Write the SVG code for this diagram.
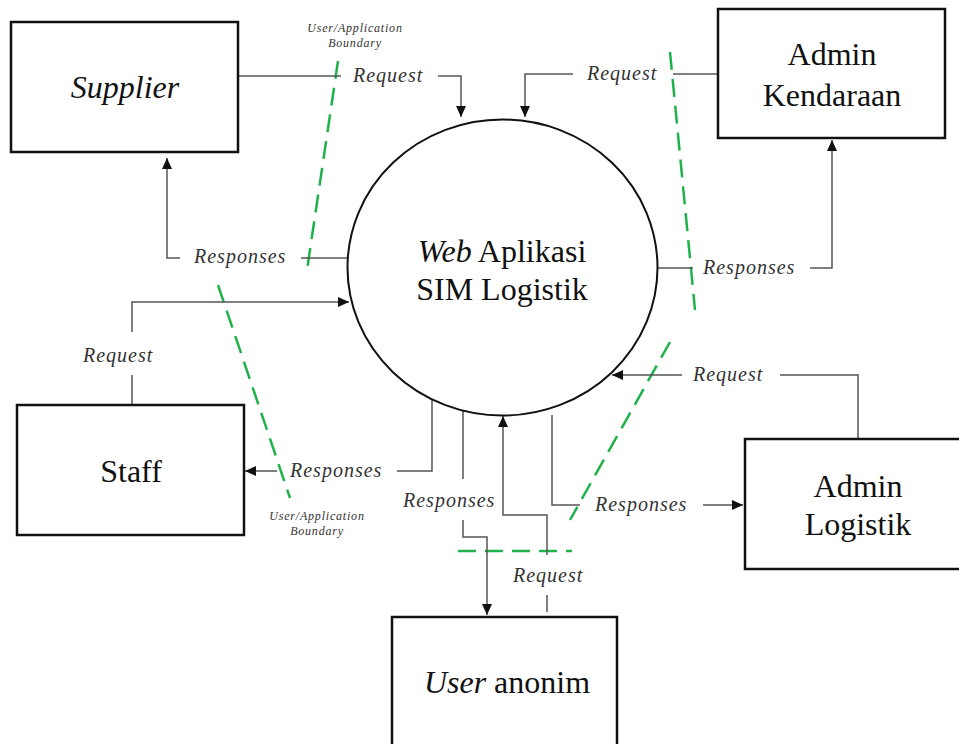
<svg xmlns="http://www.w3.org/2000/svg" width="959" height="744" viewBox="0 0 959 744">
<style>
.box{fill:#fff;stroke:#111;stroke-width:2.5}
.main{font-family:"Liberation Serif",Tinos,"Times New Roman","DejaVu Serif",serif;font-size:32px;fill:#111}
.it{font-style:italic}
.lbl{font-family:"Liberation Serif",Tinos,"Times New Roman","DejaVu Serif",serif;font-size:20px;font-style:italic;letter-spacing:1px;fill:#333}
.bnd{font-family:"Liberation Serif",Tinos,"Times New Roman","DejaVu Serif",serif;font-size:12px;font-style:italic;letter-spacing:0.8px;fill:#333;text-anchor:middle}
.c{fill:none;stroke:#555;stroke-width:1.5}
.g{fill:none;stroke:#1fb24a;stroke-width:2.5;stroke-dasharray:18 9}
</style>
<defs>
<marker id="arr" markerUnits="userSpaceOnUse" markerWidth="12" markerHeight="10" refX="11" refY="5" orient="auto">
<path d="M0,0 L11,5 L0,10 Z" fill="#111"/>
</marker>
</defs>
<rect width="959" height="744" fill="#fff"/>

<g id="boundaries">
<path class="g" d="M338,61 L307,270"/>
<path class="g" d="M218,285 L290,498"/>
<path class="g" d="M670,52 L695,310"/>
<path class="g" d="M670,342 L570,520"/>
<path class="g" d="M458,551 H572"/>
<text class="bnd" x="355" y="32">User/Application</text>
<text class="bnd" x="355" y="47">Boundary</text>
<text class="bnd" x="317" y="520">User/Application</text>
<text class="bnd" x="317" y="535">Boundary</text>
</g>

<g id="connectors">
<path class="c" d="M238,76 H341"/>
<path class="c" d="M438,76 H461 V117" marker-end="url(#arr)"/>
<text class="lbl" x="353" y="82">Request</text>

<path class="c" d="M347,258 H301"/>
<path class="c" d="M180,258 H167 V158" marker-end="url(#arr)"/>
<text class="lbl" x="194" y="263">Responses</text>

<path class="c" d="M718,74 H673"/>
<path class="c" d="M573,74 H525 V117" marker-end="url(#arr)"/>
<text class="lbl" x="587" y="80">Request</text>

<path class="c" d="M658,268 H693"/>
<path class="c" d="M810,268 H832 V140" marker-end="url(#arr)"/>
<text class="lbl" x="703" y="274">Responses</text>

<path class="c" d="M132,405 V375"/>
<path class="c" d="M132,332 V302 H349" marker-end="url(#arr)"/>
<text class="lbl" x="83" y="362">Request</text>

<path class="c" d="M432,400 V471 H397"/>
<path class="c" d="M277,471 H245" marker-end="url(#arr)"/>
<text class="lbl" x="290" y="477">Responses</text>

<path class="c" d="M463,411 V479"/>
<path class="c" d="M463,520 V537 H487 V615" marker-end="url(#arr)"/>
<text class="lbl" x="403" y="507">Responses</text>

<path class="c" d="M547,612 V595"/>
<path class="c" d="M547,555 V515 H503 V416" marker-end="url(#arr)"/>
<text class="lbl" x="513" y="582">Request</text>

<path class="c" d="M552,415 V505 H580"/>
<path class="c" d="M703,505 H743" marker-end="url(#arr)"/>
<text class="lbl" x="595" y="511">Responses</text>

<path class="c" d="M858,439 V375 H780"/>
<path class="c" d="M682,375 H612" marker-end="url(#arr)"/>
<text class="lbl" x="693" y="381">Request</text>
</g>

<g id="web-aplikasi">
<ellipse cx="502.5" cy="267.5" rx="155" ry="148" fill="none" stroke="#111" stroke-width="2"/>
<text class="main" x="502" y="262" text-anchor="middle"><tspan class="it">Web</tspan> Aplikasi</text>
<text class="main" x="502" y="300" text-anchor="middle">SIM Logistik</text>
</g>

<g id="supplier">
<rect class="box" x="11" y="22" width="227" height="130"/>
<text class="main it" x="125" y="98" text-anchor="middle">Supplier</text>
</g>

<g id="admin-kendaraan">
<rect class="box" x="718" y="9" width="227" height="129"/>
<text class="main" x="832" y="65" text-anchor="middle">Admin</text>
<text class="main" x="832" y="106" text-anchor="middle">Kendaraan</text>
</g>

<g id="staff">
<rect class="box" x="17" y="405" width="227" height="130"/>
<text class="main" x="131" y="482" text-anchor="middle">Staff</text>
</g>

<g id="admin-logistik">
<rect class="box" x="745" y="439" width="230" height="130"/>
<text class="main" x="858" y="497" text-anchor="middle">Admin</text>
<text class="main" x="858" y="535" text-anchor="middle">Logistik</text>
</g>

<g id="user-anonim">
<rect class="box" x="392" y="617" width="225" height="140"/>
<text class="main" x="507" y="693" text-anchor="middle"><tspan class="it">User</tspan> anonim</text>
</g>
</svg>
